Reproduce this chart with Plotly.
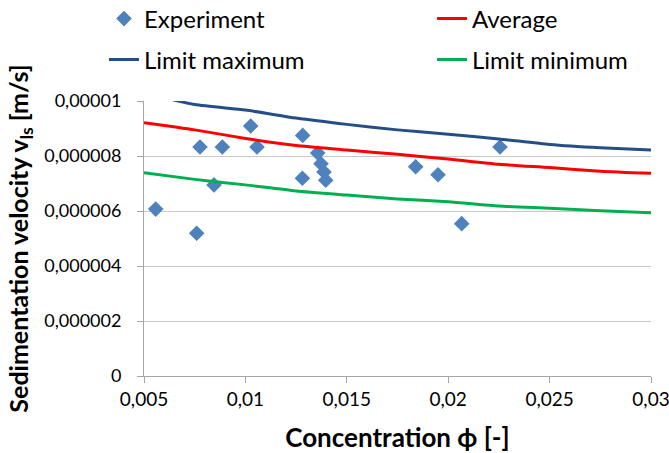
import plotly.graph_objects as go

# Experimental points
exp_x = [0.005577, 0.007597, 0.007761, 0.008452, 0.008862, 0.010261, 0.010572,
         0.012825, 0.012810, 0.013564, 0.013728, 0.013876, 0.013960,
         0.018397, 0.019497, 0.020665, 0.022554]
exp_y = [6.07e-6, 5.19e-6, 8.33e-6, 6.95e-6, 8.33e-6, 9.09e-6, 8.33e-6,
         8.75e-6, 7.19e-6, 8.11e-6, 7.72e-6, 7.42e-6, 7.12e-6,
         7.61e-6, 7.32e-6, 5.54e-6, 8.33e-6]

# Model curves
curve_x = [0.005, 0.0075, 0.01, 0.0125, 0.015, 0.0175, 0.02, 0.0225, 0.025, 0.0275, 0.03]
avg_y = [9.21e-6, 8.95e-6, 8.64e-6, 8.38e-6, 8.22e-6, 8.06e-6, 7.89e-6, 7.70e-6, 7.58e-6, 7.45e-6, 7.37e-6]
max_y = [10.30e-6, 9.87e-6, 9.67e-6, 9.38e-6, 9.15e-6, 8.95e-6, 8.79e-6, 8.62e-6, 8.42e-6, 8.30e-6, 8.22e-6]
min_y = [7.39e-6, 7.15e-6, 6.95e-6, 6.73e-6, 6.58e-6, 6.44e-6, 6.34e-6, 6.18e-6, 6.10e-6, 6.01e-6, 5.94e-6]

x_ticks = [0.005, 0.01, 0.015, 0.02, 0.025, 0.03]
x_tick_text = ["0,005", "0,01", "0,015", "0,02", "0,025", "0,03"]
y_ticks = [0, 2e-6, 4e-6, 6e-6, 8e-6, 1e-5]
y_tick_text = ["0", "0,000002", "0,000004", "0,000006", "0,000008", "0,00001"]

FONT = "Lato"
W, H = 669, 453
ML, MR, MT, MB = 144, 18, 101, 77

fig = go.Figure()
fig.add_trace(go.Scatter(x=exp_x, y=exp_y, mode="markers", name="Experiment",
                         marker=dict(symbol="diamond", size=12, color="#4F81BD"),
                         legend="legend", showlegend=True))
fig.add_trace(go.Scatter(x=curve_x, y=max_y, mode="lines", name="Limit maximum",
                         line=dict(color="#254E87", width=3, shape="spline", smoothing=0.6),
                         legend="legend3", showlegend=True))
fig.add_trace(go.Scatter(x=curve_x, y=avg_y, mode="lines", name="Average",
                         line=dict(color="#FF0000", width=3, shape="spline", smoothing=0.6),
                         legend="legend2", showlegend=True))
fig.add_trace(go.Scatter(x=curve_x, y=min_y, mode="lines", name="Limit minimum",
                         line=dict(color="#00B050", width=3, shape="spline", smoothing=0.6),
                         legend="legend4", showlegend=True))

pw = W - ML - MR
ph = H - MT - MB


def px_x(p):
    return (p - ML) / pw


def px_y(p):
    return (H - MB - p) / ph


leg_common = dict(font=dict(family=FONT, size=24, color="#000000"),
                  bgcolor="rgba(0,0,0,0)", xanchor="left", yanchor="middle",
                  itemwidth=30, visible=True)

fig.update_layout(
    width=W, height=H,
    margin=dict(l=ML, r=MR, t=MT, b=MB, autoexpand=False),
    paper_bgcolor="white", plot_bgcolor="white",
    showlegend=True,
    font=dict(family=FONT, color="#000000"),
    legend=dict(x=px_x(104), y=px_y(19), **leg_common),
    legend2=dict(x=px_x(432), y=px_y(19), **leg_common),
    legend3=dict(x=px_x(104), y=px_y(60), **leg_common),
    legend4=dict(x=px_x(432), y=px_y(60), **leg_common),
    xaxis=dict(range=[0.005, 0.03], tickvals=x_ticks, ticktext=x_tick_text,
               showgrid=False, zeroline=False, showline=True, linecolor="#A6A6A6",
               linewidth=1, ticks="outside", ticklen=6, tickcolor="#A6A6A6",
               ticklabeloverflow="allow",
               tickfont=dict(family=FONT, size=19, color="#000000"),
               title=dict(text="<b>Concentration ϕ [-]</b>", standoff=21,
                          font=dict(family=FONT, size=26, color="#000000"))),
    yaxis=dict(range=[0, 1e-5], tickvals=y_ticks, ticktext=y_tick_text,
               showgrid=True, gridcolor="#C8C8C8", gridwidth=1, zeroline=False,
               showline=True, linecolor="#A6A6A6", linewidth=1,
               ticks="outside", ticklen=6, tickcolor="#A6A6A6",
               ticklabelstandoff=12, ticklabeloverflow="allow",
               tickfont=dict(family=FONT, size=18, color="#000000"),
               title=dict(text="<b>Sedimentation velocity v<sub>ls</sub> [m/s]</b>", standoff=8,
                          font=dict(family=FONT, size=25, color="#000000"))),
)

fig.write_html("out.html")
